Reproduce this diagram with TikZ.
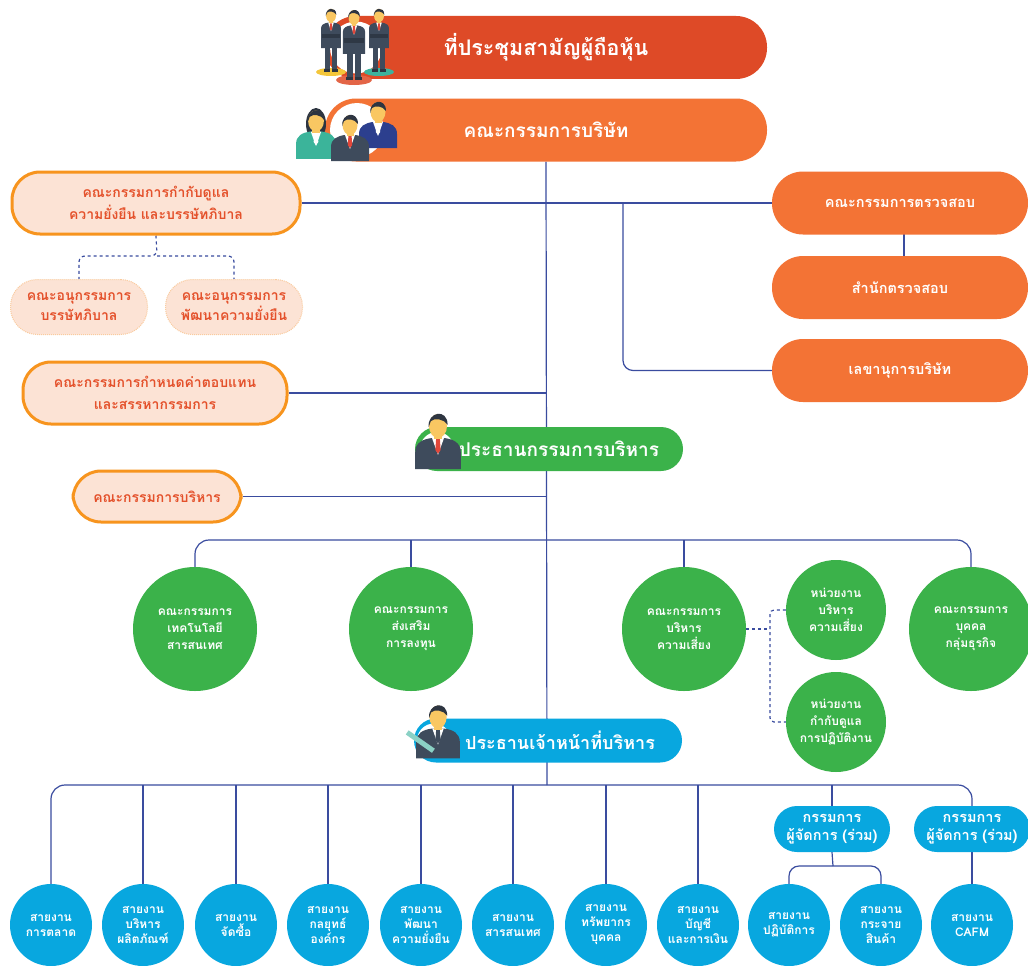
\documentclass[tikz,border=0pt]{standalone}
\usepackage{fontspec}
\setmainfont[Script=Thai]{Loma}
\usetikzlibrary{backgrounds}

\definecolor{agmred}{HTML}{DE4A27}
\definecolor{boardorange}{HTML}{F37335}
\definecolor{peach}{HTML}{FCE3D5}
\definecolor{peachline}{HTML}{F7941E}
\definecolor{peachtext}{HTML}{E4512B}
\definecolor{execgreen}{HTML}{3BB24A}
\definecolor{ceoblue}{HTML}{08A7DF}
\definecolor{linkblue}{HTML}{3A4C9F}
\definecolor{skin}{HTML}{F9C762}
\definecolor{hair}{HTML}{2E3541}
\definecolor{suit}{HTML}{3E4B5C}
\definecolor{suitblue}{HTML}{2C3F8E}
\definecolor{suitteal}{HTML}{3BB49A}
\definecolor{tiered}{HTML}{E2473A}
\definecolor{spotyellow}{HTML}{F4C63A}
\definecolor{spotteal}{HTML}{3DB39E}

% bust of a person: x, y (head centre), scale, suit colour, tie colour
\newcommand{\bustman}[5]{%
  \begin{scope}[shift={(#1,#2)}, scale=#3]
    \fill[#4] (-19,36) -- (-19,22) .. controls (-19,14) and (-13,11) .. (-5,10) -- (5,10) .. controls (13,11) and (19,14) .. (19,22) -- (19,36) -- cycle;
    \fill[white] (-5,10) -- (5,10) -- (0,24) -- cycle;
    \fill[#5] (-1.6,11) -- (1.6,11) -- (2.2,20) -- (0,23) -- (-2.2,20) -- cycle;
    \fill[skin] (-3.5,4) rectangle (3.5,11);
    \fill[skin] (0,0) ellipse (7.5 and 10);
    \fill[hair] (-7.8,1) .. controls (-9,-12) and (8,-15) .. (8,-1) .. controls (5,-6) and (-3,-7) .. (-6,-4) -- cycle;
  \end{scope}}

% standing person: x, y (head centre), scale, suit colour
\newcommand{\standman}[4]{%
  \begin{scope}[shift={(#1,#2)}, scale=#3]
    \fill[#4] (-9,40) rectangle (-1,77);
    \fill[#4] (1,40) rectangle (9,77);
    \fill[hair] (-10,75) rectangle (-1,79);
    \fill[hair] (1,75) rectangle (10,79);
    \fill[#4] (-14,46) -- (-14,18) .. controls (-14,13) and (-10,11) .. (-4,10) -- (4,10) .. controls (10,11) and (14,13) .. (14,18) -- (14,46) -- cycle;
    \fill[white] (-4,10) -- (4,10) -- (0,22) -- cycle;
    \fill[tiered] (-1.3,11) -- (1.3,11) -- (1.8,19) -- (0,21) -- (-1.8,19) -- cycle;
    \fill[#4!75!black] (-13,26) rectangle (13,32);
    \fill[skin] (-3,4) rectangle (3,11);
    \fill[skin] (0,0) ellipse (7 and 9.5);
    \fill[hair] (-7.3,1) .. controls (-8.5,-11) and (7.5,-14) .. (7.5,-1) .. controls (5,-6) and (-3,-7) .. (-5.6,-4) -- cycle;
  \end{scope}}

\begin{document}
\begin{tikzpicture}[
    x=1pt, y=-1pt,
    toppill/.style={rectangle, rounded corners=31pt, minimum width=442pt, minimum height=63pt, text=white, font=\fontsize{21.5}{26}\selectfont\bfseries},
    sidepill/.style={rectangle, rounded corners=31pt, fill=boardorange, minimum width=256pt, minimum height=63pt, text=white, font=\fontsize{14.5}{18}\selectfont\bfseries},
    peachbox/.style={rectangle, rounded corners=28pt, draw=peachline, line width=3pt, fill=peach, text=peachtext, align=center, font=\fontsize{14}{22}\selectfont\bfseries},
    subbox/.style={rectangle, rounded corners=27pt, fill=peach, draw=peachline!30!peach, densely dotted, line width=1pt, minimum width=137pt, minimum height=55pt, text=peachtext, align=center, font=\fontsize{14}{20}\selectfont\bfseries},
    headpill/.style={rectangle, rounded corners=22pt, minimum width=268pt, minimum height=44pt, text=white, font=\fontsize{19}{24}\selectfont\bfseries},
    gcircle/.style={circle, fill=execgreen, minimum size=124pt, inner sep=0pt, text=white, align=center, font=\fontsize{12}{17}\selectfont\bfseries},
    gsmall/.style={gcircle, minimum size=100pt},
    bcircle/.style={circle, fill=ceoblue, minimum size=82pt, inner sep=0pt, text=white, align=center, font=\fontsize{12}{15}\selectfont\bfseries},
    mdpill/.style={rectangle, rounded corners=23pt, fill=ceoblue, minimum width=116pt, minimum height=46pt, text=white, align=center, font=\fontsize{14.5}{18}\selectfont\bfseries},
    link/.style={draw=linkblue, line width=1.2pt},
    dashlink/.style={link, dashed}
]
    \useasboundingbox (0,0) rectangle (1028,966);

    % Shareholders and board
    \node[toppill, fill=agmred] (agm) at (546,47.5) {ที่ประชุมสามัญผู้ถือหุ้น};
    \node[toppill, fill=boardorange, font=\fontsize{19}{24}\selectfont\bfseries] (board) at (546,130) {คณะกรรมการบริษัท};

    % Board committees, left
    \node[peachbox, minimum width=288pt, minimum height=62pt] (gov) at (156,203) {คณะกรรมการกำกับดูแล\\ความยั่งยืน และบรรษัทภิบาล};
    \node[subbox] (subgov) at (79,307) {คณะอนุกรรมการ\\บรรษัทภิบาล};
    \node[subbox] (subdev) at (234,307) {คณะอนุกรรมการ\\พัฒนาความยั่งยืน};
    \node[peachbox, minimum width=264pt, minimum height=62pt] (remun) at (155,393) {คณะกรรมการกำหนดค่าตอบแทน\\และสรรหากรรมการ};

    % Board committees, right
    \node[sidepill] (audit) at (900,203) {คณะกรรมการตรวจสอบ};
    \node[sidepill] (auditoff) at (900,287.5) {สำนักตรวจสอบ};
    \node[sidepill] (secretary) at (900,370.5) {เลขานุการบริษัท};

    % Executive chairman
    \node[headpill, fill=execgreen] (chairex) at (549,449) {\hspace*{20pt}ประธานกรรมการบริหาร};
    \node[peachbox, minimum width=168pt, minimum height=51pt] (execcom) at (157,496.5) {คณะกรรมการบริหาร};

    % Executive committees
    \node[gcircle] (tech) at (195,629) {คณะกรรมการ\\เทคโนโลยี\\สารสนเทศ};
    \node[gcircle] (invest) at (411,629) {คณะกรรมการ\\ส่งเสริม\\การลงทุน};
    \node[gcircle] (risk) at (684,629) {คณะกรรมการ\\บริหาร\\ความเสี่ยง};
    \node[gcircle] (hrgroup) at (971,629) {คณะกรรมการ\\บุคคล\\กลุ่มธุรกิจ};
    \node[gsmall] (riskunit) at (836,610) {หน่วยงาน\\บริหาร\\ความเสี่ยง};
    \node[gsmall] (compunit) at (836,722) {หน่วยงาน\\กำกับดูแล\\การปฏิบัติงาน};

    % CEO and managing directors
    \node[headpill, fill=ceoblue, font=\fontsize{18}{22}\selectfont\bfseries] (ceo) at (548,740.5) {\hspace*{24pt}ประธานเจ้าหน้าที่บริหาร};
    \node[mdpill] (md1) at (832,829) {กรรมการ\\ผู้จัดการ (ร่วม)};
    \node[mdpill] (md2) at (972,829) {กรรมการ\\ผู้จัดการ (ร่วม)};

    % Business lines
    \node[bcircle] (mkt) at (51,925) {สายงาน\\การตลาด};
    \node[bcircle] (prod) at (143,925) {สายงาน\\บริหาร\\ผลิตภัณฑ์};
    \node[bcircle] (purch) at (236,925) {สายงาน\\จัดซื้อ};
    \node[bcircle] (strat) at (328,925) {สายงาน\\กลยุทธ์\\องค์กร};
    \node[bcircle] (sust) at (421,925) {สายงาน\\พัฒนา\\ความยั่งยืน};
    \node[bcircle] (infosys) at (513,925) {สายงาน\\สารสนเทศ};
    \node[bcircle] (hres) at (606,925) {สายงาน\\ทรัพยากร\\บุคคล};
    \node[bcircle] (acct) at (698,925) {สายงาน\\บัญชี\\และการเงิน};
    \node[bcircle] (ops) at (789,925) {สายงาน\\ปฏิบัติการ};
    \node[bcircle] (dist) at (881,925) {สายงาน\\กระจาย\\สินค้า};
    \node[bcircle] (cafm) at (972,925) {สายงาน\\CAFM};

    % Bus points
    \coordinate (gbus) at (547,540);
    \coordinate (bbus) at (547,785);
    \coordinate (rk) at (770,629);
    \coordinate (mdsplit) at (833,866);

    % Connectors
    \begin{scope}[on background layer]
        \fill[white] (0,0) rectangle (1028,966);
        \draw[link] (board.south) -- (bbus);
        \draw[link] (gov.east) -- (audit.west);
        \draw[link, rounded corners=10pt] (623,203) |- (secretary.west);
        \draw[link] (904,234) -- (904,256);
        \draw[link] (remun.east) -- (remun.east -| bbus);
        \draw[link] (execcom.east) -- (execcom.east -| bbus);

        \draw[dashlink, rounded corners=6pt] (gov.south) -- (157,256) -| (subgov.north);
        \draw[dashlink, rounded corners=6pt] (157,256) -| (subdev.north);

        \draw[link, rounded corners=14pt] (tech.north) |- (gbus) -| (hrgroup.north);
        \draw[link] (invest.north) -- (invest.north |- gbus);
        \draw[link] (risk.north) -- (risk.north |- gbus);
        \draw[dashlink] (risk.east) -- (rk);
        \draw[dashlink, rounded corners=4pt] (riskunit.west) -| (rk) |- (compunit.west);

        \draw[link, rounded corners=14pt] (mkt.north) |- (bbus) -| (md2.north);
        \draw[link] (prod.north) -- (prod.north |- bbus);
        \draw[link] (purch.north) -- (purch.north |- bbus);
        \draw[link] (strat.north) -- (strat.north |- bbus);
        \draw[link] (sust.north) -- (sust.north |- bbus);
        \draw[link] (infosys.north) -- (infosys.north |- bbus);
        \draw[link] (hres.north) -- (hres.north |- bbus);
        \draw[link] (acct.north) -- (acct.north |- bbus);
        \draw[link] (md1.north) -- (md1.north |- bbus);
        \draw[link] (md1.south) -- (mdsplit);
        \draw[link, rounded corners=10pt] (ops.north) |- (mdsplit) -| (dist.north);
        \draw[link] (md2.south) -- (cafm.north);
    \end{scope}

    % People icons
    \fill[white] (356,47.5) circle (26);
    \fill[spotyellow] (331,72) ellipse (15 and 4);
    \fill[spotteal] (379,72) ellipse (15 and 4);
    \fill[agmred!85!white] (354,80) ellipse (18 and 5);
    \standman{331}{15.5}{0.71}{suit}
    \standman{379}{15.5}{0.71}{suit}
    \standman{354}{17.5}{0.79}{suit}

    \fill[white] (357,130) circle (27);
    \bustman{378}{112}{1.0}{suitblue}{white}
    \fill[hair] (316,124) ellipse (10 and 16);
    \bustman{316}{121}{1.05}{suitteal}{white}
    \bustman{350}{125}{1.0}{suit}{tiered}

    \fill[white] (437,449) circle (17);
    \bustman{438}{426}{1.2}{suit}{tiered}

    \fill[white] (434,740.5) circle (17);
    \bustman{438}{717}{1.15}{suit}{suit}
    \fill[spotteal!60!white, rotate around={-35:(420,742)}] (404,739) rectangle (436,744);
\end{tikzpicture}
\end{document}
